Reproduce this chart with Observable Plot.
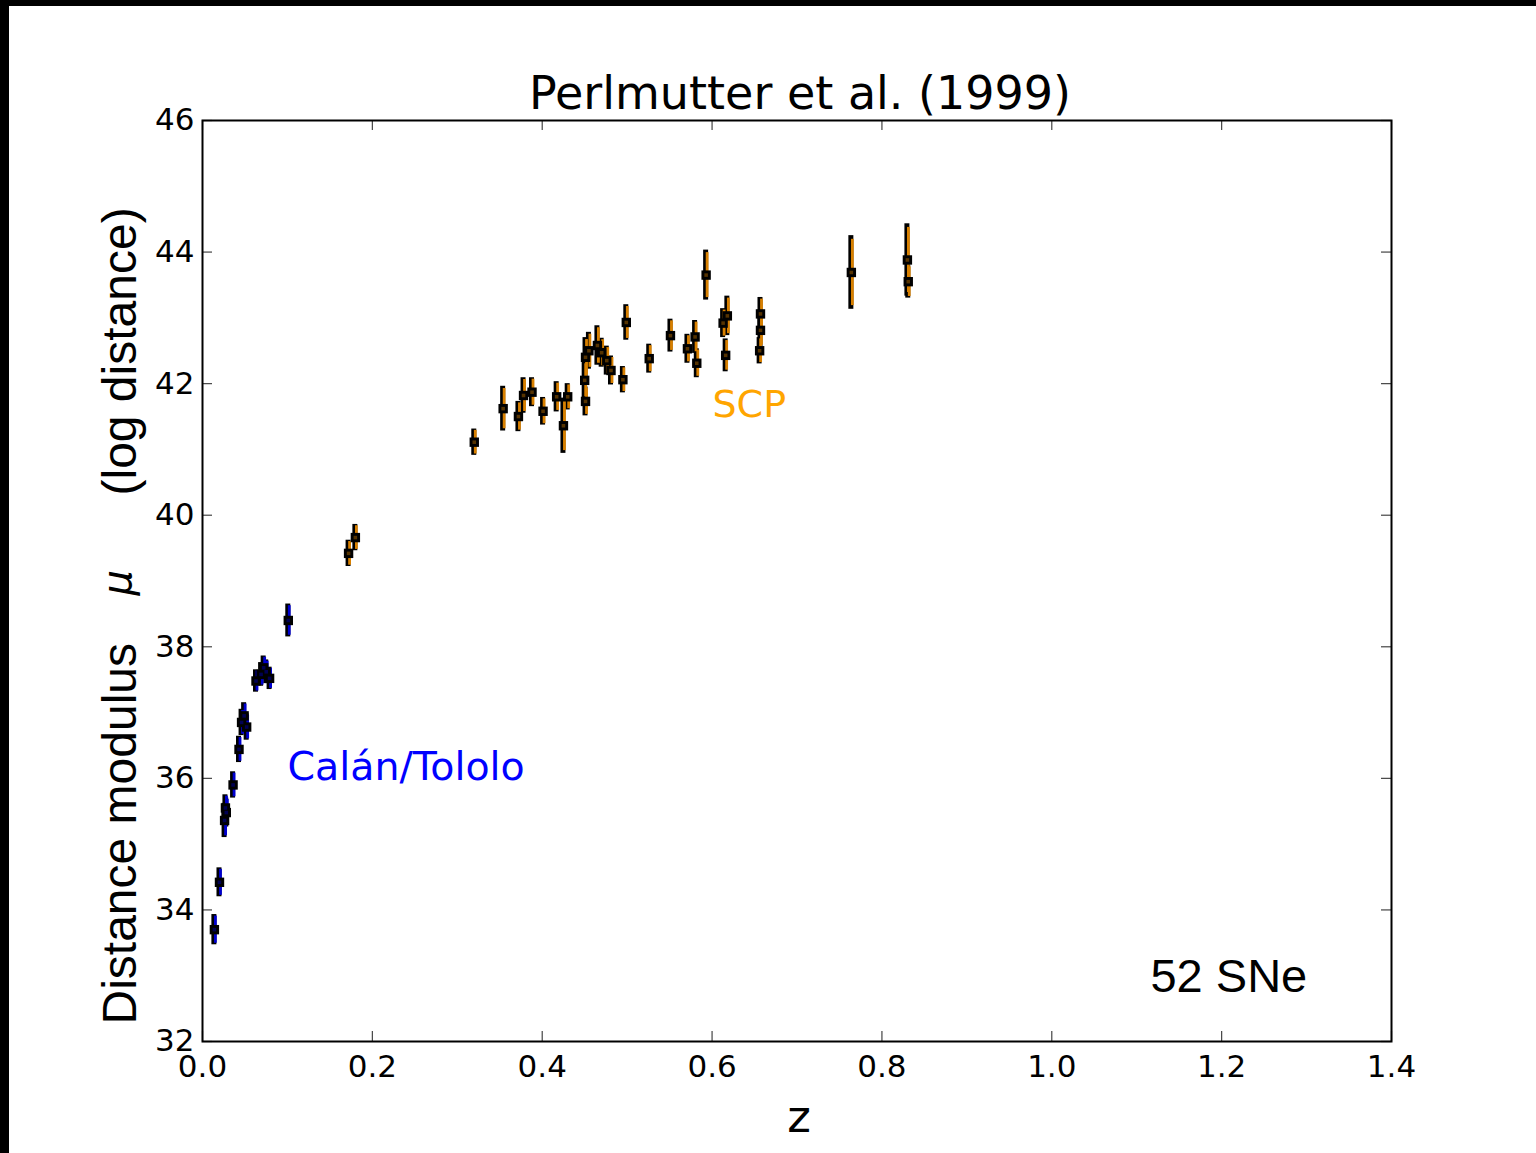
<!DOCTYPE html>
<html>
<head>
<meta charset="utf-8">
<script src="https://cdn.jsdelivr.net/npm/d3@7"></script>
<script src="https://cdn.jsdelivr.net/npm/@observablehq/plot@0.6"></script>
<style>
  html, body { margin: 0; padding: 0; background: #000; }
  #chart { margin: 6px 0 0 9px; width: 1527px; height: 1147px; background: #fff; }
  #chart svg { display: block; background: #fff; }
</style>
</head>
<body>
<div id="chart"></div>
<script>
// Calán/Tololo low-redshift supernovae: redshift, distance modulus, 1σ error
const ctZ   = [0.014, 0.020, 0.026, 0.027, 0.028, 0.036, 0.043, 0.046, 0.049, 0.052, 0.063, 0.069, 0.072, 0.075, 0.079, 0.101];
const ctMu  = [33.70, 34.42, 35.36, 35.55, 35.48, 35.90, 36.44, 36.85, 36.95, 36.78, 37.48, 37.58, 37.68, 37.62, 37.52, 38.40];
const ctErr = [0.23, 0.22, 0.26, 0.20, 0.22, 0.20, 0.20, 0.20, 0.20, 0.20, 0.17, 0.18, 0.18, 0.18, 0.17, 0.25];

// Supernova Cosmology Project high-redshift supernovae
const scpZ   = [0.172, 0.180, 0.320, 0.354, 0.372, 0.378, 0.388, 0.401, 0.417, 0.425, 0.430, 0.450, 0.451, 0.451, 0.455, 0.465, 0.470, 0.476,
                0.481, 0.495, 0.499, 0.526, 0.551, 0.571, 0.580, 0.582, 0.593, 0.613, 0.616, 0.618, 0.656, 0.657, 0.657, 0.764, 0.830, 0.831];
const scpMu  = [39.42, 39.66, 41.11, 41.62, 41.50, 41.82, 41.87, 41.58, 41.80, 41.36, 41.80, 42.05, 41.73, 42.40, 42.50, 42.58, 42.47, 42.35,
                42.20, 42.06, 42.93, 42.38, 42.73, 42.53, 42.71, 42.31, 43.65, 42.92, 42.43, 43.03, 42.50, 42.81, 43.06, 43.69, 43.88, 43.55];
const scpErr = [0.20, 0.20, 0.20, 0.34, 0.23, 0.27, 0.22, 0.21, 0.23, 0.42, 0.20, 0.28, 0.22, 0.30, 0.28, 0.30, 0.22, 0.22,
                0.22, 0.20, 0.27, 0.22, 0.25, 0.22, 0.25, 0.22, 0.38, 0.22, 0.25, 0.30, 0.20, 0.25, 0.25, 0.56, 0.55, 0.25];

// Axis ticks
const xTicks = [0.0, 0.2, 0.4, 0.6, 0.8, 1.0, 1.2, 1.4];
const yTicks = [32, 34, 36, 38, 40, 42, 44, 46];

const ct  = ctZ.map((z, i) => ({z, mu: ctMu[i], err: ctErr[i]}));
const scp = scpZ.map((z, i) => ({z, mu: scpMu[i], err: scpErr[i]}));

const W = 1527, H = 1147;
const mL = 193, mR = 145, mT = 114, mB = 112;
const plotW = W - mL - mR, plotH = H - mT - mB;

const tickColor = "#444";
const sans = "DejaVu Sans";
const helv = "Liberation Sans";

// Error bar (black underlay with a coloured stripe) plus a square marker
function errorBars(data, color) {
  return [
    Plot.ruleX(data, {x: "z", y1: d => d.mu - d.err, y2: d => d.mu + d.err, stroke: "black", strokeWidth: 5, dx: -0.5}),
    Plot.ruleX(data, {x: "z", y1: d => d.mu - d.err * 0.9, y2: d => d.mu + d.err * 0.9, stroke: color, strokeWidth: 2.8, dx: 1}),
    Plot.dot(data, {x: "z", y: "mu", symbol: "square", r: 5.3, fill: "black"}),
    Plot.dot(data, {x: "z", y: "mu", symbol: "square", r: 2, fill: color, fillOpacity: 0.4})
  ];
}

const chart = Plot.plot({
  width: W,
  height: H,
  marginLeft: mL,
  marginRight: mR,
  marginTop: mT,
  marginBottom: mB,
  style: {background: "#fff", fontFamily: sans, overflow: "visible"},
  x: {domain: [0, 1.4]},
  y: {domain: [32, 46]},
  marks: [
    // inward tick marks on all four sides
    Plot.ruleX(xTicks, {x: d => d, insetTop: plotH - 10, stroke: tickColor, strokeWidth: 1.2}),
    Plot.ruleX(xTicks, {x: d => d, insetBottom: plotH - 10, stroke: tickColor, strokeWidth: 1.2}),
    Plot.ruleY(yTicks, {y: d => d, insetRight: plotW - 10, stroke: tickColor, strokeWidth: 1.2}),
    Plot.ruleY(yTicks, {y: d => d, insetLeft: plotW - 10, stroke: tickColor, strokeWidth: 1.2}),
    // tick labels
    Plot.axisX({anchor: "bottom", ticks: xTicks, tickSize: 0, tickPadding: 13, fontSize: 31, tickFormat: d3.format(".1f"), label: null, fill: "black"}),
    Plot.axisY({anchor: "left", ticks: yTicks, tickSize: 0, tickPadding: 8, fontSize: 31, tickFormat: d3.format("d"), label: null, fill: "black"}),
    ...errorBars(ct, "#0000d0"),
    ...errorBars(scp, "#d88000"),
    Plot.frame({stroke: "black", strokeWidth: 2}),
    // group labels
    Plot.text(["Calán/Tololo"], {x: 0.1001, y: 35.97, text: d => d, textAnchor: "start", lineAnchor: "bottom", fill: "#0000ff", fontSize: 39.5, fontFamily: sans}),
    Plot.text(["SCP"], {x: 0.6005, y: 41.49, text: d => d, textAnchor: "start", lineAnchor: "bottom", fill: "#ffa500", fontSize: 38, fontFamily: sans}),
    Plot.text(["52 SNe"], {x: 1.1162, y: 32.75, text: d => d, textAnchor: "start", lineAnchor: "bottom", fill: "black", fontSize: 47, fontFamily: helv}),
    // title and axis labels
    Plot.text(["Perlmutter et al. (1999)"], {frameAnchor: "top", dy: -12, dx: 3, text: d => d, lineAnchor: "bottom", fontSize: 46, fontFamily: sans, fill: "black"}),
    Plot.text(["z"], {frameAnchor: "bottom", dy: 90, dx: 2, text: d => d, lineAnchor: "bottom", fontSize: 45, fontFamily: sans, fill: "black"}),
    Plot.text(["Distance modulus"], {frameAnchor: "bottom-left", dx: -67, dy: -17, rotate: -90, text: d => d, textAnchor: "start", lineAnchor: "bottom", fontSize: 48, fontFamily: helv, fill: "black"}),
    Plot.text(["μ"], {frameAnchor: "bottom-left", dx: -72, dy: -446, rotate: -90, text: d => d, textAnchor: "start", lineAnchor: "bottom", fontSize: 40, fontFamily: sans, fontStyle: "italic", fill: "black"}),
    Plot.text(["(log distance)"], {frameAnchor: "bottom-left", dx: -67, dy: -546, rotate: -90, text: d => d, textAnchor: "start", lineAnchor: "bottom", fontSize: 48, fontFamily: helv, fill: "black"})
  ]
});

document.getElementById("chart").appendChild(chart);
</script>
</body>
</html>
